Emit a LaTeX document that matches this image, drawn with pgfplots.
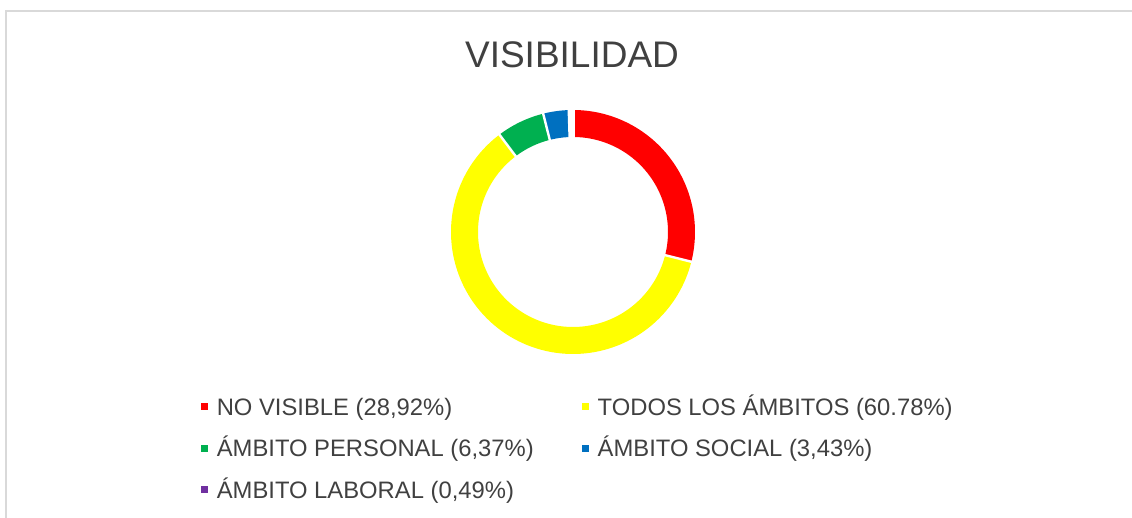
\documentclass[border=0pt]{standalone}
\usepackage{pgfplots}
\pgfplotsset{compat=1.18}
\usepackage{pgfplotstable}
\usepgfplotslibrary{polar}
\usepackage{fontspec}
\setmainfont{Liberation Sans}
\definecolor{cRed}{HTML}{FF0000}
\definecolor{cYel}{HTML}{FFFF00}
\definecolor{cGrn}{HTML}{00B050}
\definecolor{cBlu}{HTML}{0070C0}
\definecolor{cPur}{HTML}{7030A0}
\definecolor{txt}{HTML}{404040}
\definecolor{framec}{HTML}{D9D9D9}

\pgfplotstableread{
name value
NOVISIBLE 28.92
TODOS 60.78
PERSONAL 6.37
SOCIAL 3.43
LABORAL 0.49
}\datatable

\begin{document}%
\begin{tikzpicture}
\pgfplotstablegetelem{0}{value}\of\datatable \let\vA\pgfplotsretval
\pgfplotstablegetelem{1}{value}\of\datatable \let\vB\pgfplotsretval
\pgfplotstablegetelem{2}{value}\of\datatable \let\vC\pgfplotsretval
\pgfplotstablegetelem{3}{value}\of\datatable \let\vD\pgfplotsretval
\pgfplotstablegetelem{4}{value}\of\datatable \let\vE\pgfplotsretval
\pgfmathsetmacro\tA{90}
\pgfmathsetmacro\tB{\tA-3.6*\vA}
\pgfmathsetmacro\tC{\tB-3.6*\vB}
\pgfmathsetmacro\tD{\tC-3.6*\vC}
\pgfmathsetmacro\tE{\tD-3.6*\vD}
\pgfmathsetmacro\tF{\tE-3.6*\vE}
\path[use as bounding box] (0pt,0pt) rectangle (566pt,259pt);
% frame
\draw[framec, line width=1pt] (3pt,0pt) -- (3pt,253.25pt) -- (566pt,253.25pt);
% title
\node[anchor=base, text=txt, font=\fontsize{18.5}{22}\selectfont, inner sep=0pt] at (286pt,225.15pt) {VISIBILIDAD};
% donut
\begin{polaraxis}[at={(286.5pt,143pt)}, anchor=center, width=122pt, height=122pt,
  scale only axis, hide axis, ymin=0, ymax=122, clip=false]
\addplot[draw=cRed, line width=13.5pt, domain=\tB:\tA, samples=120, no markers] {108.5};
\addplot[draw=cYel, line width=13.5pt, domain=\tC:\tB, samples=200, no markers] {108.5};
\addplot[draw=cGrn, line width=13.5pt, domain=\tD:\tC, samples=40, no markers] {108.5};
\addplot[draw=cBlu, line width=13.5pt, domain=\tE:\tD, samples=30, no markers] {108.5};
\addplot[draw=cPur, line width=13.5pt, domain=\tF:\tE, samples=10, no markers] {108.5};
\addplot[white, line width=1.2pt, no markers] coordinates {(\tB,90) (\tB,126)};
\addplot[white, line width=1.2pt, no markers] coordinates {(\tC,90) (\tC,126)};
\addplot[white, line width=1.2pt, no markers] coordinates {(\tD,90) (\tD,126)};
\addplot[white, line width=1.6pt, no markers] coordinates {(\tE,90) (\tE,126)};
\addplot[white, line width=1.6pt, no markers] coordinates {(\tA,90) (\tA,126)};
\end{polaraxis}
% legend
\begin{axis}[at={(0pt,0pt)}, anchor=south west, width=566pt, height=259pt,
  scale only axis, hide axis, xmin=0, xmax=1, ymin=0, ymax=1,
  legend columns=2, legend cell align=left,
  legend style={at={(0.1773,0.2311)}, anchor=north west, draw=none, fill=none,
    inner sep=0pt, outer sep=0pt,
    font=\fontsize{11.9}{14}\selectfont, text=txt,
    nodes={inner sep=0pt, text height=8.6pt, text depth=0pt},
    row sep=12.05pt,
    /tikz/every odd column/.append style={column sep=4.65pt},
    /tikz/every even column/.append style={column sep=23.9pt}},
]
\addlegendimage{legend image code/.code={\fill[cRed] (0pt,-1.5pt) rectangle (3pt,1.5pt);}}
\addlegendentry{NO VISIBLE (28,92\%)}
\addlegendimage{legend image code/.code={\fill[cYel] (0pt,-1.5pt) rectangle (3pt,1.5pt);}}
\addlegendentry{TODOS LOS ÁMBITOS (60.78\%)}
\addlegendimage{legend image code/.code={\fill[cGrn] (0pt,-1.5pt) rectangle (3pt,1.5pt);}}
\addlegendentry{ÁMBITO PERSONAL (6,37\%)}
\addlegendimage{legend image code/.code={\fill[cBlu] (0pt,-1.5pt) rectangle (3pt,1.5pt);}}
\addlegendentry{ÁMBITO SOCIAL (3,43\%)}
\addlegendimage{legend image code/.code={\fill[cPur] (0pt,-1.5pt) rectangle (3pt,1.5pt);}}
\addlegendentry{ÁMBITO LABORAL (0,49\%)}
\end{axis}
\end{tikzpicture}%
\end{document}
